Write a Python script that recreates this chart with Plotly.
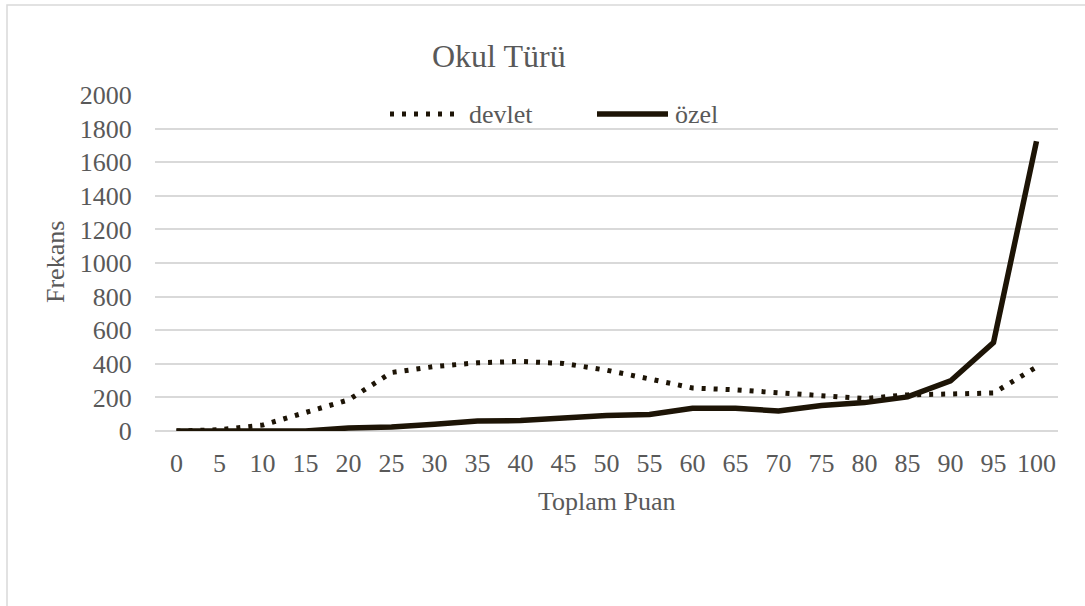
import plotly.graph_objects as go

categories = ["0", "5", "10", "15", "20", "25", "30", "35", "40", "45", "50",
              "55", "60", "65", "70", "75", "80", "85", "90", "95", "100"]
devlet = [0, 8, 35, 108, 185, 348, 384, 406, 414, 402, 362, 310, 256, 245,
          226, 212, 193, 215, 218, 226, 381]
ozel = [0, 0, 0, 0, 18, 24, 40, 60, 62, 77, 93, 98, 135, 135, 119, 152,
        169, 203, 298, 527, 1725]
y_ticks = [0, 200, 400, 600, 800, 1000, 1200, 1400, 1600, 1800, 2000]

LINE = "#1d1406"
TXT = "#595959"
FONT = "Liberation Serif"
GRID = "#d9d9d9"
DOT = "4px,8px"

W, H = 1085, 606
OFF = 0  # page body margin removed via post_script
L, R, T, B = 155, 27, 95, 175
PW, PH = W - L - R, H - T - B


def px(x):
    return (x - OFF - L) / PW


def py(y):
    return (H - B - (y - OFF)) / PH


fig = go.Figure()
fig.add_trace(go.Scatter(
    x=categories, y=devlet, name="devlet", mode="lines",
    line=dict(color=LINE, width=5, dash=DOT)))
fig.add_trace(go.Scatter(
    x=categories, y=ozel, name="özel", mode="lines",
    line=dict(color=LINE, width=5.5)))

legend_y = py(114)
fig.update_layout(
    width=W, height=H,
    margin=dict(l=L, r=R, t=T, b=B, pad=0),
    paper_bgcolor="white", plot_bgcolor="white",
    font=dict(family=FONT, color=TXT, size=26),
    showlegend=False,
    xaxis=dict(type="category", range=[-0.5, 20.5], showgrid=False,
               showline=False, zeroline=False, ticks="outside",
               ticklen=9, tickcolor="rgba(0,0,0,0)",
               tickfont=dict(family=FONT, color=TXT, size=26),
               fixedrange=True),
    yaxis=dict(range=[0, 2000], tickvals=y_ticks, showgrid=True,
               gridcolor=GRID, gridwidth=1.5, zeroline=True,
               zerolinecolor=GRID, zerolinewidth=1.5, showline=False,
               ticks="outside", ticklen=17, tickcolor="rgba(0,0,0,0)",
               tickfont=dict(family=FONT, color=TXT, size=26),
               fixedrange=True),
    annotations=[
        dict(text="Okul Türü", xref="paper", yref="paper", x=px(499),
             y=py(56), xanchor="center", yanchor="middle", showarrow=False,
             font=dict(family=FONT, color=TXT, size=32)),
        dict(text="Frekans", xref="paper", yref="paper", x=px(55),
             y=py(262), xanchor="center", yanchor="middle", showarrow=False,
             textangle=-90, font=dict(family=FONT, color=TXT, size=26)),
        dict(text="Toplam Puan", xref="paper", yref="paper", x=px(607),
             y=py(501), xanchor="center", yanchor="middle", showarrow=False,
             font=dict(family=FONT, color=TXT, size=26)),
        dict(text="devlet", xref="paper", yref="paper", x=px(467),
             y=legend_y, xanchor="left", yanchor="middle", showarrow=False,
             font=dict(family=FONT, color=TXT, size=26)),
        dict(text="özel", xref="paper", yref="paper", x=px(673),
             y=legend_y, xanchor="left", yanchor="middle", showarrow=False,
             font=dict(family=FONT, color=TXT, size=26)),
    ],
    shapes=[
        dict(type="rect", xref="paper", yref="paper",
             x0=px(7), x1=px(1110), y0=py(630), y1=py(5),
             line=dict(color=GRID, width=1.5), fillcolor="rgba(0,0,0,0)",
             layer="below"),
        dict(type="line", xref="paper", yref="paper",
             x0=px(390), x1=px(462), y0=legend_y, y1=legend_y,
             line=dict(color=LINE, width=5, dash=DOT)),
        dict(type="line", xref="paper", yref="paper",
             x0=px(597), x1=px(668), y0=legend_y, y1=legend_y,
             line=dict(color=LINE, width=5.5)),
    ],
)

fig.write_html("out.html", config={"displayModeBar": False},
               post_script="document.body.style.margin='0';"
                           "document.body.style.overflow='hidden';")
